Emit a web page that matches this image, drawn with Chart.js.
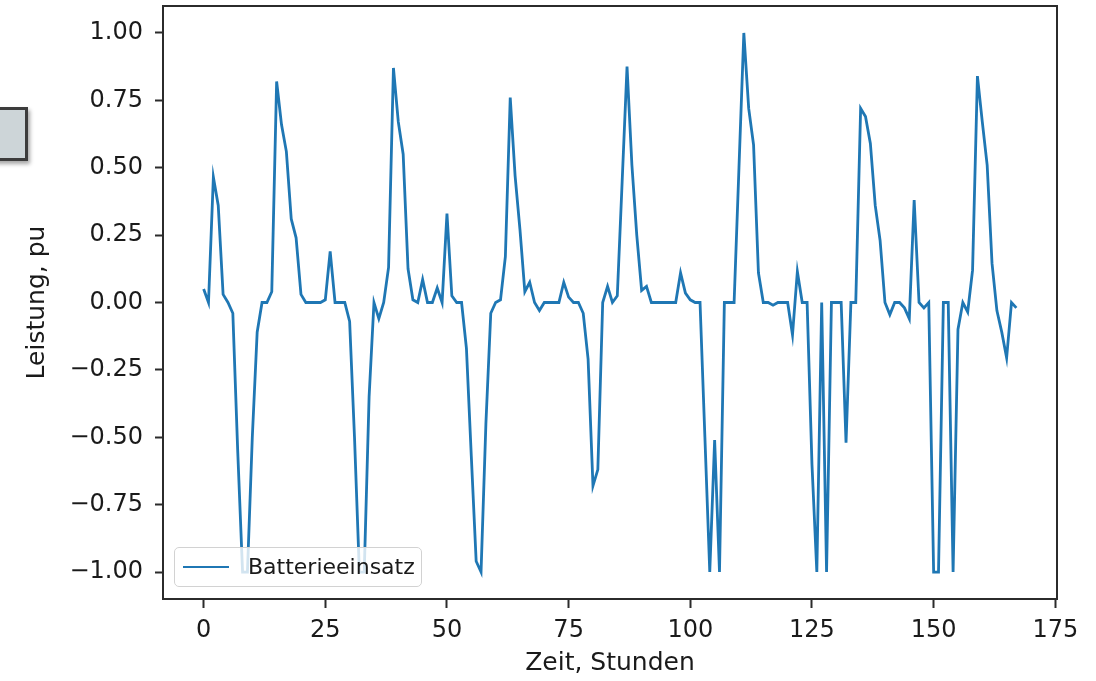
<!DOCTYPE html>
<html>
<head>
<meta charset="utf-8">
<script src="https://cdn.jsdelivr.net/npm/chart.js@4.4.1/dist/chart.umd.min.js"></script>
<style>
  html, body { margin: 0; padding: 0; background: #ffffff; overflow: hidden; }
  #wrap { position: relative; width: 1096px; height: 681px; }
  #c { position: absolute; left: 0; top: 0; }
  #sidebox {
    position: absolute; left: -12px; top: 107px; width: 34px; height: 48px;
    background: #cdd5d8; border: 3px solid #3c3c3c;
    box-shadow: 2px 3px 4px rgba(0,0,0,0.35);
  }
  #legend {
    position: absolute; left: 174px; top: 547px; width: 246px; height: 38px;
    border: 1.5px solid #d2d2d2; border-radius: 5px;
    background: rgba(255,255,255,0.8);
    font-family: "DejaVu Sans", sans-serif; font-size: 22px; color: #1a1a1a;
  }
  #legend .swatch {
    position: absolute; left: 8px; top: 18px; width: 46px; height: 0;
    border-top: 2.8px solid #1f77b4;
  }
  #legend .label {
    position: absolute; left: 73px; top: 5px; line-height: 27px; white-space: nowrap;
  }
</style>
</head>
<body>
<div id="wrap">
  <canvas id="c" width="1096" height="681"></canvas>
  <div id="sidebox"></div>
  <div id="legend"><div class="swatch"></div><div class="label">Batterieeinsatz</div></div>
</div>
<script>
// ---- data ----
const seriesName = "Batterieeinsatz";
const power = [
  0.05, 0.0, 0.465, 0.36, 0.03, 0.0, -0.04, -0.55, -1.0, -1.0,
  -0.5, -0.11, 0.0, 0.0, 0.04, 0.82, 0.66, 0.56, 0.31, 0.24,
  0.03, 0.0, 0.0, 0.0, 0.0, 0.01, 0.19, 0.0, 0.0, 0.0,
  -0.07, -0.5, -1.0, -1.0, -0.35, 0.0, -0.06, 0.0, 0.13, 0.87,
  0.67, 0.55, 0.125, 0.01, 0.0, 0.085, 0.0, 0.0, 0.054, 0.0,
  0.33, 0.025, 0.0, 0.0, -0.17, -0.57, -0.96, -1.0, -0.45, -0.04,
  0.0, 0.01, 0.17, 0.76, 0.47, 0.27, 0.04, 0.075, 0.0, -0.03,
  0.0, 0.0, 0.0, 0.0, 0.075, 0.02, 0.0, 0.0, -0.04, -0.21,
  -0.68, -0.62, 0.0, 0.06, 0.0, 0.025, 0.45, 0.875, 0.51, 0.25,
  0.045, 0.06, 0.0, 0.0, 0.0, 0.0, 0.0, 0.0, 0.11, 0.035,
  0.01, 0.0, 0.0, -0.5, -1.0, -0.51, -1.0, 0.0, 0.0, 0.0,
  0.5, 1.0, 0.72, 0.585, 0.11, 0.0, 0.0, -0.01, 0.0, 0.0,
  0.0, -0.12, 0.115, 0.0, 0.0, -0.6, -1.0, 0.0, -1.0, 0.0,
  0.0, 0.0, -0.52, 0.0, 0.0, 0.72, 0.69, 0.59, 0.36, 0.23,
  0.0, -0.045, 0.0, 0.0, -0.02, -0.06, 0.38, 0.0, -0.02, 0.0,
  -1.0, -1.0, 0.0, 0.0, -1.0, -0.1, 0.0, -0.035, 0.12, 0.84,
  0.67, 0.51, 0.145, -0.03, -0.11, -0.205, 0.0, -0.02
];
const hours = power.map((_, i) => i);
const xTicks = [0, 25, 50, 75, 100, 125, 150, 175];
const yTicks = [-1.0, -0.75, -0.5, -0.25, 0.0, 0.25, 0.5, 0.75, 1.0];
const xTitle = "Zeit, Stunden";
const yTitle = "Leistung, pu";

// ---- chart ----
Chart.defaults.font.family = "'DejaVu Sans', sans-serif";
Chart.defaults.color = "#1a1a1a";

const frame = {
  id: 'frame',
  afterDatasetsDraw(chart) {
    const {ctx, chartArea: a} = chart;
    ctx.save();
    ctx.strokeStyle = '#2b2b2b';
    ctx.lineWidth = 2;
    ctx.strokeRect(a.left, a.top, a.right - a.left, a.bottom - a.top);
    ctx.restore();
  }
};

const xMargin = (hours[hours.length - 1] - hours[0]) * 0.05;

new Chart(document.getElementById('c'), {
  type: 'line',
  data: {
    datasets: [{
      label: seriesName,
      data: hours.map((h, i) => ({x: h, y: power[i]})),
      borderColor: '#1f77b4',
      borderWidth: 2.8,
      pointRadius: 0,
      tension: 0,
      fill: false
    }]
  },
  options: {
    responsive: false,
    devicePixelRatio: 1,
    animation: false,
    layout: { padding: { left: 0, right: 39, top: 6, bottom: 0 } },
    plugins: { legend: { display: false }, tooltip: { enabled: false } },
    scales: {
      x: {
        type: 'linear',
        min: hours[0] - xMargin,
        max: hours[hours.length - 1] + xMargin,
        afterBuildTicks: s => { s.ticks = xTicks.map(v => ({value: v})); },
        afterFit: s => { s.height = 82; s.paddingLeft = 0; s.paddingRight = 0; },
        grid: { drawOnChartArea: false, drawTicks: true, tickLength: 9, tickWidth: 2, tickColor: '#2b2b2b' },
        border: { display: false },
        ticks: { font: { size: 24 }, padding: 8, maxRotation: 0, autoSkip: false,
                 callback: v => String(v) },
        title: { display: true, text: xTitle, font: { size: 25 }, padding: { top: 0, bottom: 3 } }
      },
      y: {
        type: 'linear',
        min: -1.1,
        max: 1.1,
        afterBuildTicks: s => { s.ticks = yTicks.map(v => ({value: v})); },
        afterFit: s => { s.width = 163; s.paddingTop = 0; s.paddingBottom = 0; },
        grid: { drawOnChartArea: false, drawTicks: true, tickLength: 8, tickWidth: 2, tickColor: '#2b2b2b' },
        border: { display: false },
        ticks: { font: { size: 24 }, padding: 12, autoSkip: false,
                 callback: v => v.toFixed(2).replace('-', '\u2212') },
        title: { display: true, text: yTitle, font: { size: 25 }, padding: { top: 22, bottom: 0 } }
      }
    }
  },
  plugins: [frame]
});
</script>
</body>
</html>
